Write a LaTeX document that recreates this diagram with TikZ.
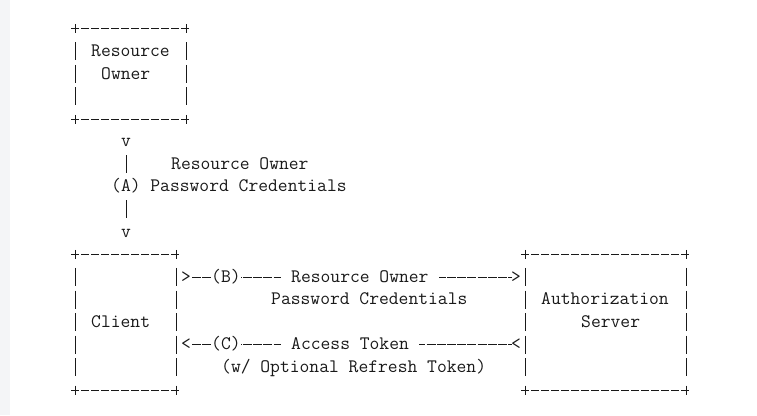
\documentclass[tikz,border=0pt]{standalone}
\usepackage{fontspec}
\definecolor{ink}{RGB}{25,25,25}
\definecolor{strip}{RGB}{244,245,247}
\newcommand\AsciiBox[1]{%
  \draw[hb] ([xshift=-4.5pt]#1.north west) -- ([xshift=4.5pt]#1.north east);
  \draw[hb] ([xshift=-4.5pt]#1.south west) -- ([xshift=4.5pt]#1.south east);
  \draw[vb] ([yshift=-13.56pt]#1.north west) -- ([yshift=13.56pt]#1.south west);
  \draw[vb] ([yshift=-13.56pt]#1.north east) -- ([yshift=13.56pt]#1.south east);
  \foreach \k in {north west,north east,south west,south east}
    \draw[rule] ([yshift=4.5pt]#1.\k) -- ([yshift=-4.5pt]#1.\k);
}
\begin{document}
\begin{tikzpicture}[x=10pt,y=-22.56pt,
  rule/.style={draw=ink, line width=0.85pt},
  hb/.style={rule, dash pattern=on 8pt off 2pt},
  vb/.style={rule, dash pattern=on 18pt off 4.56pt},
  hl/.style={rule, dash pattern=on 9pt off 1.2pt},
  txt/.style={font=\ttfamily\fontsize{19.05}{21}\selectfont, text=ink, inner sep=0pt, anchor=base west, yshift=-5pt},
  ctxt/.style={txt, anchor=base},
  mask/.style={txt, fill=white, inner ysep=2pt},
  area/.style={draw=none, inner sep=0pt, rectangle}]
\useasboundingbox (-2.6,-1.2855) rectangle (73.1,17.11);
\fill[white] (-2.6,-1.2855) rectangle (73.1,17.11);
\fill[strip] (-2.6,-1.2855) rectangle (-1.6,17.11);

% boxes
\node[area, minimum width=110pt, minimum height=90.24pt] (ro) at (10.5,2) {};
\node[area, minimum width=100pt, minimum height=135.36pt] (client) at (10,13) {};
\node[area, minimum width=160pt, minimum height=135.36pt] (auth) at (58,13) {};
\AsciiBox{ro}
\AsciiBox{client}
\AsciiBox{auth}

% box labels
\node[txt] (roL1) at (6.5,1) {Resource};
\node[txt] (roL2) at (7.5,2) {Owner};
\node[txt] (clL) at (6.5,13) {Client};
\node[txt] (auL1) at (51.5,12) {Authorization};
\node[txt] (auL2) at (55.5,13) {Server};

% (A)
\node[ctxt] (vA1) at (10,5) {v};
\node[ctxt] (vA2) at (10,9) {v};
\coordinate (A1) at (10,6);
\coordinate (A2) at (10,8);
\draw[vb] ([yshift=9pt]A1) -- ([yshift=-9pt]A2);
\node[mask] (Alab) at (8.5,7) {(A) Password Credentials};
\node[txt] (Alab0) at (14.5,6) {Resource Owner};

% (B)
\node[ctxt] (gtB1) at (16,11) {>};
\node[ctxt] (gtB2) at (49,11) {>};
\coordinate (B1) at (16.6,11);
\coordinate (B2) at (48.55,11);
\draw[hl] (B1) -- (B2);
\node[mask] (Blab) at (18.5,11) {(B)};
\node[mask, inner xsep=10pt] (Blab1) at (25.5,11) {Resource Owner};
\node[txt] (Blab2) at (24.5,12) {Password Credentials};

% (C)
\node[ctxt] (ltC1) at (16,14) {<};
\node[ctxt] (ltC2) at (49,14) {<};
\coordinate (C1) at (16.6,14);
\coordinate (C2) at (48.55,14);
\draw[hl] (C1) -- (C2);
\node[mask] (Clab) at (18.5,14) {(C)};
\node[mask, inner xsep=10pt] (Clab1) at (25.5,14) {Access Token};
\node[txt] (Clab2) at (19.5,15) {(w/ Optional Refresh Token)};
\end{tikzpicture}
\end{document}
